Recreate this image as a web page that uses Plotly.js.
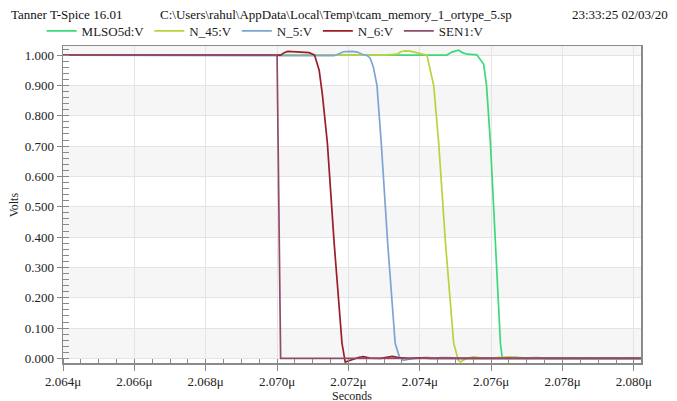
<!DOCTYPE html>
<html>
<head>
<meta charset="utf-8">
<script src="https://cdn.plot.ly/plotly-3.0.1.min.js"></script>
<style>
html,body{margin:0;padding:0;background:#fff;}
#chart{width:677px;height:401px;}
</style>
</head>
<body>
<div id="chart"></div>
<script>
// ---- data (time in microseconds, voltage in volts) ----
const seriesNames = ["MLSO5d:V", "N_45:V", "N_5:V", "N_6:V", "SEN1:V"];
const seriesColors = ["#3dd87c", "#b9d33c", "#7fa4d4", "#9c1d27", "#8e4c6d"];

const mlsoT = [2.064, 2.0741, 2.0745, 2.07476, 2.0749, 2.07509, 2.0752, 2.07532, 2.0756, 2.07579, 2.07587, 2.07598, 2.07612, 2.07626, 2.07631, 2.0764, 2.0767, 2.0770, 2.0773, 2.0776, 2.0802];
const mlsoV = [1.0, 0.998, 0.999, 1.0, 1.01, 1.016, 1.008, 1.003, 1.001, 0.97, 0.90, 0.71, 0.38, 0.05, 0.003, 0.002, 0.004, 0.001, 0.003, 0.0, 0.0];

const n45T = [2.064, 2.0730, 2.07336, 2.07348, 2.0736, 2.07373, 2.0739, 2.07411, 2.0742, 2.07439, 2.07453, 2.07472, 2.07495, 2.07508, 2.07514, 2.0753, 2.0755, 2.0757, 2.0760, 2.0765, 2.0768, 2.0772, 2.0775, 2.0802];
const n45V = [1.0, 1.0, 1.003, 1.012, 1.014, 1.013, 1.008, 1.003, 1.0, 0.90, 0.71, 0.38, 0.05, -0.006, -0.012, 0.0, 0.005, 0.002, 0.001, 0.005, 0.001, 0.003, 0.0, 0.0];

const n5T = [2.064, 2.0710, 2.0716, 2.07175, 2.07186, 2.0721, 2.07225, 2.0724, 2.07253, 2.07261, 2.0727, 2.0728, 2.07292, 2.0731, 2.07331, 2.07343, 2.07354, 2.0737, 2.0740, 2.0742, 2.0744, 2.0746, 2.0748, 2.0752, 2.0775, 2.0802];
const n5V = [1.0, 0.998, 0.998, 1.005, 1.011, 1.012, 1.01, 1.002, 0.998, 0.99, 0.96, 0.90, 0.71, 0.38, 0.05, 0.005, -0.006, -0.002, 0.003, 0.004, 0.0, 0.003, 0.003, 0.0, 0.0, 0.0];

const n6T = [2.064, 2.0701, 2.07015, 2.0702, 2.0703, 2.0705, 2.0707, 2.0709, 2.07105, 2.07118, 2.07127, 2.07141, 2.0716, 2.07182, 2.07191, 2.0721, 2.0723, 2.07242, 2.0726, 2.0729, 2.0731, 2.07323, 2.0734, 2.0737, 2.0740, 2.0743, 2.0750, 2.0802];
const n6V = [1.0, 1.0, 1.004, 1.008, 1.012, 1.011, 1.009, 1.008, 1.0, 0.95, 0.87, 0.71, 0.38, 0.05, -0.012, -0.003, 0.004, 0.006, 0.001, 0.0, 0.004, 0.007, 0.003, 0.0, 0.002, 0.0, 0.0, 0.0];

const sen1T = [2.064, 2.0700, 2.0701, 2.0802];
const sen1V = [1.0, 1.0, 0.0, 0.0];

const xTickStart = 2.064, xTickStep = 0.002, xRange = [2.064, 2.0802];
const yTickStep = 0.1, yRange = [-0.015, 1.03];

const headerLeft = "Tanner T-Spice 16.01";
const headerMid = "C:\\Users\\rahul\\AppData\\Local\\Temp\\tcam_memory_1_ortype_5.sp";
const headerRight = "23:33:25 02/03/20";
const xTitle = "Seconds";
const yTitle = "Volts";

// ---- build ----
const xs = [mlsoT, n45T, n5T, n6T, sen1T];
const ys = [mlsoV, n45V, n5V, n6V, sen1V];
const traces = seriesNames.map((n, i) => ({
  x: xs[i], y: ys[i], name: n, type: "scatter", mode: "lines",
  line: {color: seriesColors[i], width: 1.7},
  hoverinfo: "skip"
}));

const FONT = "Liberation Serif";

// alternating horizontal bands
const shapes = [];
for (let k = 0; k <= 10; k += 2) {
  shapes.push({type: "rect", xref: "paper", yref: "y", x0: 0, x1: 1,
    y0: k * yTickStep, y1: Math.min((k + 1) * yTickStep, yRange[1]),
    fillcolor: "#f6f6f7", line: {width: 0}, layer: "below"});
}

const layout = {
  width: 677, height: 401,
  margin: {l: 63, r: 36, t: 46, b: 38},
  paper_bgcolor: "#ffffff", plot_bgcolor: "#ffffff",
  font: {family: FONT, size: 13, color: "#222"},
  showlegend: true,
  legend: {orientation: "h", x: -0.037, xanchor: "left", y: 1.0, yanchor: "bottom",
    font: {family: FONT, size: 13, color: "#222"}, bgcolor: "rgba(0,0,0,0)",
    itemwidth: 30, tracegroupgap: 0},
  xaxis: {
    range: xRange, tick0: xTickStart, dtick: xTickStep, tickformat: ".3f", ticksuffix: "μ",
    ticks: "outside", ticklen: 6, tickcolor: "#888", tickwidth: 1,
    minor: {ticks: "inside", ticklen: 4, dtick: xTickStep / 4, tick0: xTickStart, tickcolor: "#888", showgrid: false},
    showgrid: true, gridcolor: "#e4e4e4", gridwidth: 1, zeroline: false,
    showline: true, linecolor: "#8a8a8a", linewidth: 1.5, mirror: true,
    tickfont: {family: FONT, size: 13, color: "#222"}
  },
  yaxis: {
    range: yRange, tick0: 0, dtick: yTickStep, tickformat: ".3f",
    ticks: "outside", ticklen: 5, tickcolor: "#888", tickwidth: 1,
    minor: {ticks: "inside", ticklen: 6, dtick: yTickStep / 5, tick0: 0, tickcolor: "#888", showgrid: false},
    showgrid: true, gridcolor: "#e4e4e4", gridwidth: 1, zeroline: false,
    showline: true, linecolor: "#8a8a8a", linewidth: 1.5, mirror: true,
    tickfont: {family: FONT, size: 13, color: "#222"}
  },
  shapes: shapes,
  annotations: [
    {text: headerLeft, xref: "paper", yref: "paper", x: -0.093, y: 1.1, xanchor: "left", yanchor: "middle", showarrow: false, font: {family: FONT, size: 13, color: "#111"}},
    {text: headerMid, xref: "paper", yref: "paper", x: 0.165, y: 1.1, xanchor: "left", yanchor: "middle", showarrow: false, font: {family: FONT, size: 13, color: "#111"}},
    {text: headerRight, xref: "paper", yref: "paper", x: 1.05, y: 1.1, xanchor: "right", yanchor: "middle", showarrow: false, font: {family: FONT, size: 13, color: "#111"}},
    {text: xTitle, xref: "paper", yref: "paper", x: 0.5, y: -0.104, xanchor: "center", yanchor: "middle", showarrow: false, font: {family: FONT, size: 12, color: "#222"}},
    {text: yTitle, xref: "paper", yref: "paper", x: -0.085, y: 0.5, xanchor: "center", yanchor: "middle", textangle: -90, showarrow: false, font: {family: FONT, size: 12, color: "#222"}}
  ]
};

Plotly.newPlot("chart", traces, layout, {staticPlot: true, displayModeBar: false});
</script>
</body>
</html>
